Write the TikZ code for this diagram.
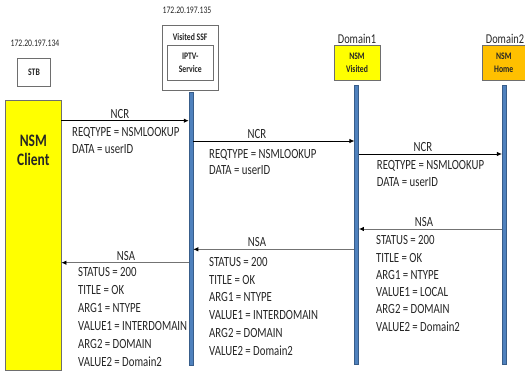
\documentclass[tikz,border=0pt]{standalone}
\usepackage{fontspec}
\setmainfont{Carlito}[FakeStretch=0.77]
\usetikzlibrary{arrows.meta}
\definecolor{lifefill}{HTML}{4F81BD}
\definecolor{lifeedge}{HTML}{385D8A}
\definecolor{nsmyellow}{HTML}{FFFF00}
\definecolor{nsmorange}{HTML}{FFC000}
\definecolor{boxedge}{HTML}{6E6E6E}
\definecolor{txt}{HTML}{262626}
\begin{document}
\begin{tikzpicture}[x=1pt,y=-1pt,
  every node/.style={inner sep=0pt, text=txt},
  msgtext/.style={font=\fontsize{14}{17}\selectfont, anchor=base west},
  msglabel/.style={font=\fontsize{14}{17}\selectfont, anchor=base},
  ipaddr/.style={font=\fontsize{10}{12}\selectfont},
  boldsmall/.style={font=\bfseries\fontsize{10}{13.4}\selectfont, align=center},
  entity/.style={draw=boxedge, line width=0.8pt},
  lifeline/.style={draw=lifeedge, fill=lifefill, line width=0.5pt, minimum width=4pt},
  ncr/.style={draw=black, line width=0.8pt, -{Latex[length=5pt,width=4.5pt]}},
  nsa/.style={draw=black!55, line width=0.8pt, -{Latex[length=5pt,width=4.5pt,black]}}
]
\useasboundingbox (0,0) rectangle (525,374);

% headers
\node[ipaddr] (ip1) at (35,43) {172.20.197.134};
\node[ipaddr] (ip2) at (187,10) {172.20.197.135};
\node[font=\fontsize{13.5}{16}\selectfont] (dom1) at (357,39) {Domain1};
\node[font=\fontsize{13.5}{16}\selectfont] (dom2) at (505,39) {Domain2};

% entities
\node[entity, fill=white, minimum width=33.4pt, minimum height=27.7pt, boldsmall] (stb) at (34,72.2) {STB};
\node[entity, fill=white, minimum width=56.3pt, minimum height=65pt] (ssf) at (190.2,57.5) {};
\node[boldsmall] (ssflabel) at (190.2,36.7) {Visited SSF};
\node[entity, fill=white, minimum width=46pt, minimum height=34.3pt, boldsmall] (iptv) at (190.3,62.85) {IPTV-\\Service};
\node[entity, fill=nsmyellow, minimum width=46pt, minimum height=34.3pt, boldsmall] (nsmv) at (357,62.85) {NSM\\Visited};
\node[entity, fill=nsmorange, minimum width=43.5pt, minimum height=34.3pt, boldsmall] (nsmh) at (503.75,62.85) {NSM\\Home};
\node[entity, fill=nsmyellow, minimum width=56pt, minimum height=270pt] (client) at (33,235) {};
\node[font=\bfseries\fontsize{17.5}{19}\selectfont, align=center] (clientlabel) at (33.3,150.5) {NSM\\Client};

% lifelines
\node[lifeline, minimum height=272.7pt] (ssfL) at (191,228.65) {};
\node[lifeline, minimum height=279.3pt] (d1L) at (356.7,224.65) {};
\node[lifeline, minimum height=279.3pt] (d2L) at (504.2,224.65) {};

% messages
\draw[ncr] (client.east |- 0,120.7) -- (ssfL.west |- 0,120.7);
\draw[ncr] (ssfL.east |- 0,141) -- (d1L.west |- 0,141);
\draw[ncr] (d1L.east |- 0,154) -- (d2L.west |- 0,154);
\draw[nsa] (d2L.west |- 0,229) -- (d1L.east |- 0,229);
\draw[nsa] (d1L.west |- 0,249.3) -- (ssfL.east |- 0,249.3);
\draw[nsa] (ssfL.west |- 0,262.7) -- (client.east |- 0,262.7);

% labels
\node[msglabel] (l1) at (120,118.3) {NCR};
\node[msglabel] (l2) at (257,138.3) {NCR};
\node[msglabel] (l3) at (423,151.7) {NCR};
\node[msglabel] (l4) at (424,226.7) {NSA};
\node[msglabel] (l5) at (257,246.7) {NSA};
\node[msglabel] (l6) at (126,260.7) {NSA};

% message contents
\foreach \t [count=\i] in {REQTYPE = NSMLOOKUP, DATA = userID}
  \node[msgtext] (a\i) at (72,{136.7+17.3*(\i-1)}) {\t};
\foreach \t [count=\i] in {REQTYPE = NSMLOOKUP, DATA = userID}
  \node[msgtext] (b\i) at (209,{158.3+16.7*(\i-1)}) {\t};
\foreach \t [count=\i] in {REQTYPE = NSMLOOKUP, DATA = userID}
  \node[msgtext] (c\i) at (376.7,{170+16.7*(\i-1)}) {\t};
\foreach \t [count=\i] in {STATUS = 200, TITLE = OK, ARG1 = NTYPE, VALUE1 = LOCAL, ARG2 = DOMAIN, VALUE2 = Domain2}
  \node[msgtext] (d\i) at (376,{245+17.2*(\i-1)}) {\t};
\foreach \t [count=\i] in {STATUS = 200, TITLE = OK, ARG1 = NTYPE, VALUE1 = INTERDOMAIN, ARG2 = DOMAIN, VALUE2 = Domain2}
  \node[msgtext] (e\i) at (209,{266.5+17.7*(\i-1)}) {\t};
\foreach \t [count=\i] in {STATUS = 200, TITLE = OK, ARG1 = NTYPE, VALUE1 = INTERDOMAIN, ARG2 = DOMAIN, VALUE2 = Domain2}
  \node[msgtext] (f\i) at (78,{276.7+17.9*(\i-1)}) {\t};
\end{tikzpicture}
\end{document}
